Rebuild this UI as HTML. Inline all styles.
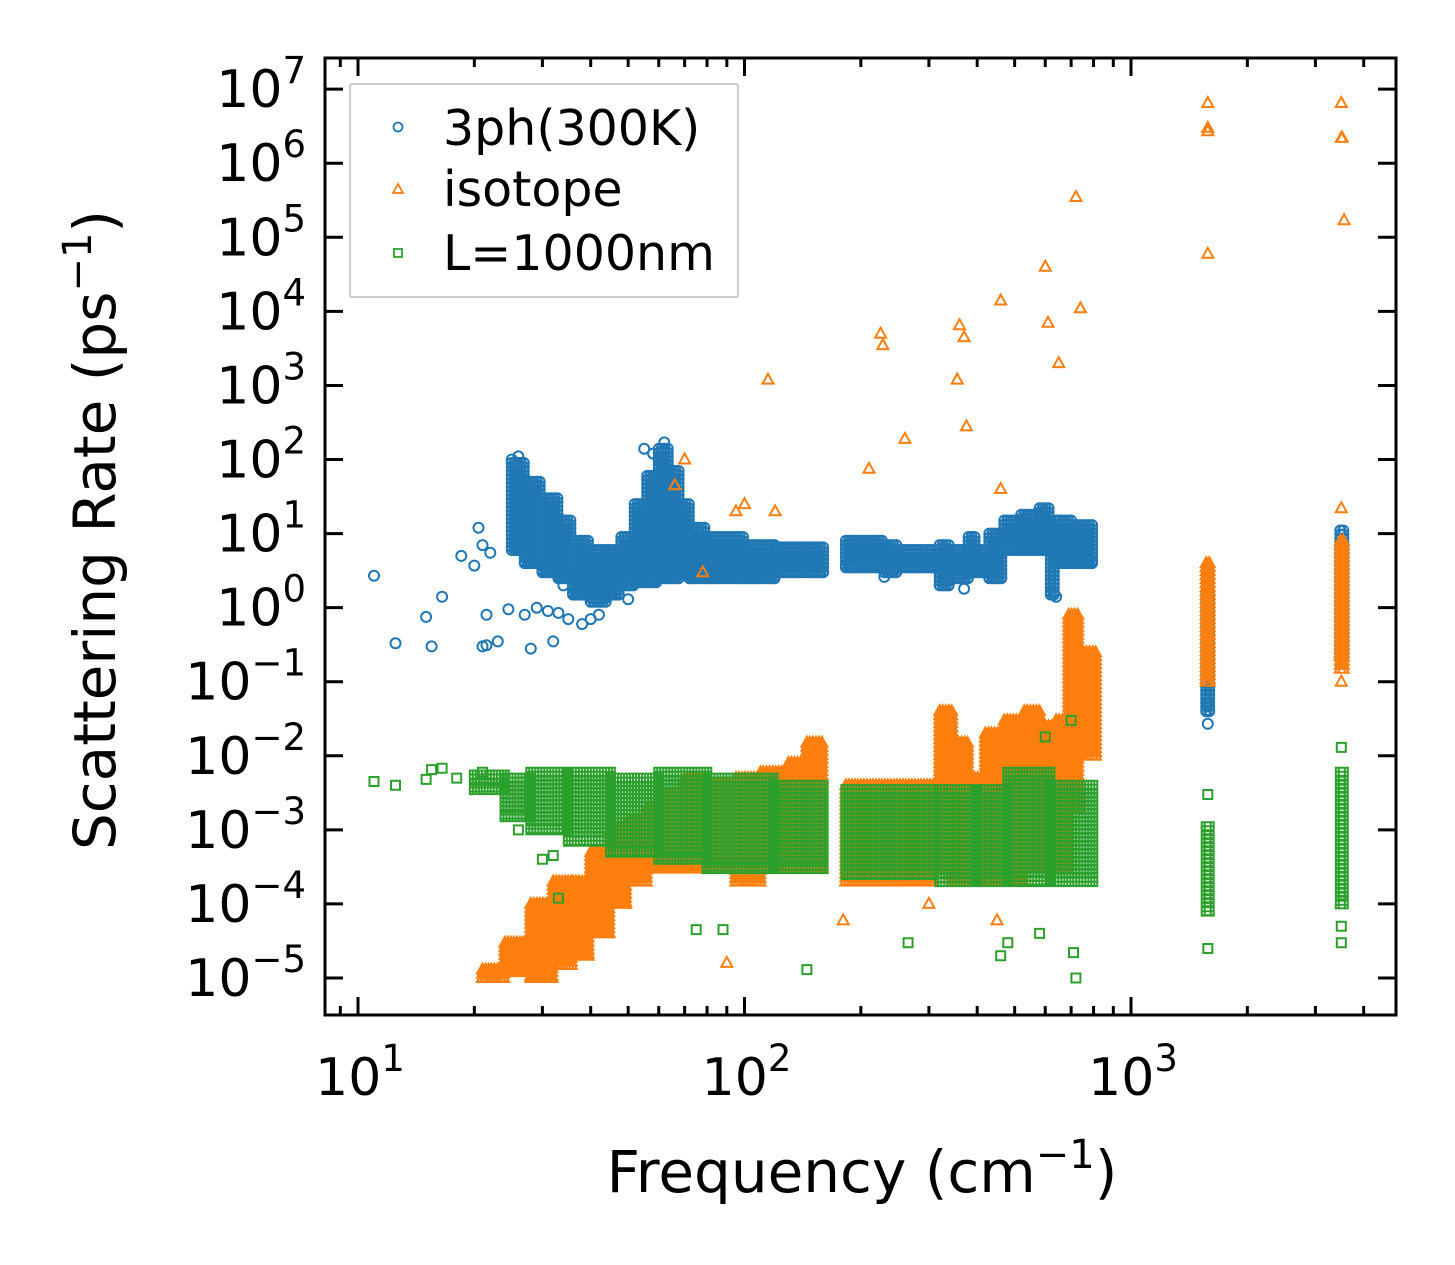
<!DOCTYPE html>
<html><head><meta charset="utf-8"><style>
html,body{margin:0;padding:0;background:#fff}
svg{display:block;font-family:"DejaVu Sans","Liberation Sans",sans-serif}
</style></head><body>
<svg id="chart" width="1455" height="1265" viewBox="0 0 1455 1265" xmlns="http://www.w3.org/2000/svg">
<rect width="1455" height="1265" fill="#fff"/>
<g id="marks"></g>
<g id="axes"></g>
<g>
<rect x="350" y="84" width="388" height="213" fill="#fff" fill-opacity="0.85" stroke="#bbb" stroke-width="1.5" rx="2"/>
<circle cx="398" cy="127" r="4.5" fill="none" stroke="#1f77b4" stroke-width="1.8"/>
<text x="443" y="145" font-size="49">3ph(300K)</text>
<path d="M398,184 L403,193 L393,193 Z" fill="none" stroke="#ff7f0e" stroke-width="1.8"/>
<text x="443" y="206" font-size="49">isotope</text>
<rect x="394" y="249" width="8" height="8" fill="none" stroke="#2ca02c" stroke-width="1.8"/>
<text x="443" y="270" font-size="49">L=1000nm</text>
</g>
<text x="862" y="1192" font-size="58" text-anchor="middle">Frequency (cm<tspan dy="-24" font-size="40">−1</tspan><tspan dy="24">)</tspan></text>
<text transform="translate(115,530) rotate(-90)" font-size="58" text-anchor="middle">Scattering Rate (ps<tspan dy="-24" font-size="40">−1</tspan><tspan dy="24">)</tspan></text>
</svg>
<script>
// ---- data ----
const xDecades = [1, 2, 3];
const yDecades = [7, 6, 5, 4, 3, 2, 1, 0, -1, -2, -3, -4, -5];
// band data: [freqStart, freqEnd, rateLow, rateHigh]
const blueBands = [[25,27,6,90],[27,30,4,50],[30,33,3,30],[33,36,2.5,15],[36,40,1.5,8],[40,44,1.2,6],[44,48,1.5,6],[48,52,2,9],[52,56,2.2,25],[56,60,2.2,60],[60,64,2.5,140],[64,68,2.5,70],[68,72,2.8,25],[72,80,2.5,12],[80,100,2.5,9],[100,120,2.5,7],[120,160,3,6.5],[183,230,3.5,8],[230,250,3,7],[250,310,3.5,6],[320,340,2,7],[340,380,2.5,6],[380,400,3,9],[400,430,3,6],[430,470,2.5,10],[470,520,6,15],[520,580,6,18],[580,620,6,22],[620,640,1.5,12],[640,700,4,15],[700,800,4,13],[1565,1595,0.04,1.5],[3480,3600,0.2,11]];
const bluePoints = [[11,2.7],[12.5,0.33],[15,0.75],[15.5,0.3],[16.5,1.4],[18.5,5],[20,3.7],[20.5,12],[21,0.3],[21.5,0.31],[21.5,0.8],[21,7],[22,5.5],[23,0.35],[24.5,0.95],[25,100],[26,110],[25.5,7],[26,6],[27,0.8],[28,0.28],[29,1.0],[30,3],[31,0.9],[32,0.35],[33,0.85],[34,2],[35,0.7],[36,1.5],[38,0.6],[40,0.7],[42,0.8],[45,1.5],[50,1.3],[55,140],[62,170],[60,100],[58,120],[1580,0.027],[1580,0.05],[230,2.6],[370,1.8],[640,1.4]];
const orangeBands = [[21,24,1e-5,1.3e-5],[24,28,1.2e-5,3e-5],[28,32,1e-5,1e-4],[32,36,1.5e-5,2e-4],[36,40,2e-5,2e-4],[40,45,4e-5,5e-4],[45,50,1e-4,1e-3],[50,56,2e-4,1.3e-3],[56,62,3e-4,2e-3],[62,70,3e-4,3e-3],[70,80,3e-4,5e-3],[80,95,3e-4,4e-3],[95,110,2e-4,5e-3],[110,130,3e-4,6e-3],[130,145,3e-4,8e-3],[145,160,3e-4,1.5e-2],[183,310,2e-4,4e-3],[320,345,3e-4,4e-2],[345,380,2e-4,1.5e-2],[380,420,2e-4,5e-3],[420,470,2e-4,2e-2],[470,530,2e-4,3e-2],[530,580,3e-4,4e-2],[580,640,3e-4,2.5e-2],[640,690,3e-4,3e-2],[690,735,2e-3,0.8],[740,810,0.01,0.25],[1565,1595,0.1,4],[3480,3600,0.15,8]];
const orangePoints = [[1580,6.5e6],[1580,3e6],[1580,2.7e6],[1580,6e4],[3500,6.5e6],[3500,2.2e6],[3520,2.2e6],[3560,1.7e5],[720,3.5e5],[600,4e4],[740,1.1e4],[460,1.4e4],[360,6.5e3],[370,4.5e3],[610,7e3],[650,2e3],[225,5e3],[228,3.5e3],[115,1.2e3],[355,1.2e3],[375,280],[260,190],[210,75],[70,100],[460,40],[66,45],[78,3],[100,25],[95,20],[120,20],[3500,22],[3500,0.1],[1580,0.15],[180,6e-5],[90,1.6e-5],[450,6e-5],[300,1e-4]];
const greenBands = [[20,24,3.5e-3,5.5e-3],[24,28,1.5e-3,5e-3],[28,35,1e-3,6e-3],[35,45,7e-4,6e-3],[45,60,5e-4,5e-3],[60,80,4e-4,6e-3],[80,120,3e-4,5e-3],[120,160,3e-4,4e-3],[183,310,2.5e-4,3.5e-3],[320,400,2e-4,3.5e-3],[400,480,2e-4,3.5e-3],[480,620,2e-4,6e-3],[620,810,2e-4,4e-3],[1565,1595,8e-5,1.1e-3],[3480,3600,1e-4,6e-3]];
const greenPoints = [[11,4.5e-3],[12.5,4e-3],[15,4.8e-3],[15.5,6.5e-3],[16.5,6.8e-3],[18,5e-3],[20,5.5e-3],[21,6e-3],[26,1e-3],[30,4e-4],[33,1.2e-4],[32,4.5e-4],[75,4.5e-5],[88,4.5e-5],[145,1.3e-5],[265,3e-5],[460,2e-5],[480,3e-5],[580,4e-5],[710,2.2e-5],[720,1e-5],[1580,2.5e-5],[1580,3e-3],[3500,3e-5],[3500,1.3e-2],[3500,5e-5],[600,1.8e-2],[700,3e-2]];

// ---- scales ----
const L=325,R=1396,T=58,B=1015;
const X0=358, DX=386.5, Y0=978, DY=74.07;
function X(f){return X0+(Math.log10(f)-1)*DX;}
function Y(v){return Y0-(Math.log10(v)+5)*DY;}

function circ(x,y){return `M${(x+5).toFixed(1)},${y.toFixed(1)}a5,5 0 1,0 -10,0a5,5 0 1,0 10,0`;}
function tri(x,y){return `M${x.toFixed(1)},${(y-6).toFixed(1)}l5.5,10h-11z`;}
function sq(x,y){return `M${(x-4.5).toFixed(1)},${(y-4.5).toFixed(1)}h9v9h-9z`;}

const NS="http://www.w3.org/2000/svg";
const marks=document.getElementById('marks');
function series(name,bands,points,shape,color){
  let d='';
  bands.forEach(b=>{
    const x0=X(b[0]),x1=X(b[1]),ya=Y(b[3]),yb=Y(b[2]);
    for(let x=x0;x<=x1+0.01;x+=3){
      for(let y=ya;y<=yb+0.01;y+=4){d+=shape(x,y);}
      d+=shape(x,yb);
    }
  });
  points.forEach(p=>{d+=shape(X(p[0]),Y(p[1]));});
  const p=document.createElementNS(NS,'path');
  p.setAttribute('d',d);
  p.setAttribute('fill','none');
  p.setAttribute('stroke',color);
  p.setAttribute('stroke-width','2');
  
  
  marks.appendChild(p);
}
series('series-3ph',blueBands,bluePoints,circ,'#1f77b4');
series('series-isotope',orangeBands,orangePoints,tri,'#ff7f0e');
series('series-boundary',greenBands,greenPoints,sq,'#2ca02c');

// ---- axes ----
const axes=document.getElementById('axes');
let td='';
for(let e=0;e<=3;e++){
  for(let m=1;m<10;m++){
    const f=m*Math.pow(10,e);
    const x=X(f);
    if(x<L||x>R)continue;
    const len=m===1?18:9;
    td+=`M${x},${B}v${-len}M${x},${T}v${len}`;
  }
}
yDecades.forEach(e=>{const y=Y(Math.pow(10,e));td+=`M${L},${y}h18M${R},${y}h-18`;});
const tk=document.createElementNS(NS,'path');
tk.setAttribute('d',td);tk.setAttribute('stroke','#000');tk.setAttribute('stroke-width','3');


axes.appendChild(tk);
const fr=document.createElementNS(NS,'rect');
fr.setAttribute('x',L);fr.setAttribute('y',T);fr.setAttribute('width',R-L);fr.setAttribute('height',B-T);
fr.setAttribute('fill','none');fr.setAttribute('stroke','#000');fr.setAttribute('stroke-width','3');


axes.appendChild(fr);

xDecades.forEach(e=>{
  const t=document.createElementNS(NS,'text');
  t.setAttribute('x',X(Math.pow(10,e))+2);t.setAttribute('y',1095);
  t.setAttribute('font-size','52');t.setAttribute('text-anchor','middle');
  t.innerHTML=`10<tspan dy="-24" font-size="37">${e}</tspan>`;
  
  
  axes.appendChild(t);
});
yDecades.forEach(e=>{
  const t=document.createElementNS(NS,'text');
  t.setAttribute('x',306);t.setAttribute('y',Y(Math.pow(10,e))+18);
  t.setAttribute('font-size','52');t.setAttribute('text-anchor','end');
  t.innerHTML=`10<tspan dy="-24" font-size="37">${e<0?'−'+(-e):e}</tspan>`;
  
  
  axes.appendChild(t);
});
</script>
</body></html>
